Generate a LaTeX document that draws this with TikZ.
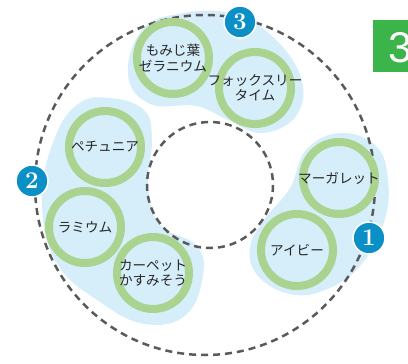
\documentclass[tikz,border=0pt]{standalone}
\usepackage{fontspec}
\newfontfamily\jpfont{Noto Sans CJK JP}
\newfontfamily\tabfont{Liberation Sans}
\definecolor{skyfill}{HTML}{D5EEFA}
\definecolor{leafring}{HTML}{A9D38F}
\definecolor{badgeblue}{HTML}{0A8FC6}
\definecolor{tabgreen}{HTML}{3BB44A}
\definecolor{dashgray}{HTML}{5A5A5A}
\tikzset{
  plant/.style={circle,draw=leafring,line width=8pt,fill=skyfill,minimum size=72pt,
    inner sep=0pt,label={[plantname]center:#1}},
  plantname/.style={align=center,inner sep=0pt,text=black!85,
    font=\jpfont\fontsize{13.6}{15.5}\selectfont},
  badge/.style={circle,fill=badgeblue,draw=white,line width=1.5pt,minimum size=32pt,
    inner sep=0pt,text=white,font=\fontsize{24}{24}\selectfont\bfseries},
  route/.style={draw=dashgray,line width=2.5pt,dash pattern=on 7pt off 5pt}
}
\begin{document}
\begin{tikzpicture}[x=1pt,y=-1pt]
        \useasboundingbox (0,0) rectangle (408,364);
        \clip (0,0) rectangle (408,364);
        %% blue areas
        \fill[skyfill] plot[smooth cycle,tension=0.7] coordinates {(128,75) (142,30) (178,14) (230,13) (272,36) (301,78) (296,116) (262,133) (228,120) (196,106) (150,104)};
        \fill[skyfill] plot[smooth cycle,tension=0.7] coordinates {(110,98) (144,110) (152,140) (148,185) (160,225) (196,245) (203,275) (186,315) (145,324) (100,302) (56,262) (42,200) (54,140) (78,104)};
        \fill[skyfill] plot[smooth cycle,tension=0.7] coordinates {(340,133) (376,146) (388,180) (384,222) (360,266) (325,290) (290,294) (258,276) (250,248) (264,220) (290,188) (306,150)};
        %% routes
        \draw[route] (205,185) circle[radius=170];
        \draw[route] (210,185) circle[radius=63];
        %% plants
        \node[plant={もみじ葉\\ゼラニウム}] (momiji) at (173,58) {};
        \node[plant={フォックスリー\\タイム}] (thyme) at (255,88) {};
        \node[plant={ペチュニア}] (petunia) at (105,147) {};
        \node[plant={ラミウム}] (lamium) at (85,227) {};
        \node[plant={カーペット\\かすみそう}] (carpet) at (153,273) {};
        \node[plant={マーガレット}] (marguerite) at (339,178) {};
        \node[plant={アイビー}] (ivy) at (297,250) {};
        %% numbers
        \node[badge] (b1) at (369,238) {1};
        \node[badge] (b2) at (32,181) {2};
        \node[badge] (b3) at (240,22) {3};
        %% tab
        \fill[tabgreen] (373,20) rectangle (408,72);
        \node[anchor=base west,inner sep=0pt,text=white,font=\tabfont\fontsize{43}{43}\selectfont] (tab) at (388,63) {3};
    \end{tikzpicture}
\end{document}
